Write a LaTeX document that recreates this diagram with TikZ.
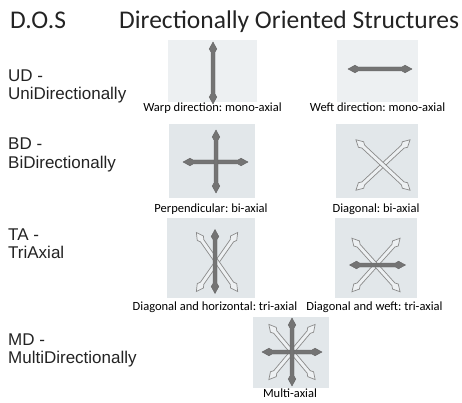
\documentclass[tikz,border=0pt]{standalone}
\usepackage{fontspec}
\setmainfont{Carlito}
\newfontfamily\arialfont{Liberation Sans}
\usetikzlibrary{positioning}
\frenchspacing
\definecolor{tilegrey}{RGB}{226,231,234}
\definecolor{tilelight}{RGB}{237,240,242}
\definecolor{fibregrey}{RGB}{116,116,116}
\definecolor{fibreedge}{RGB}{138,138,138}
\definecolor{inkgrey}{RGB}{35,35,35}

\tikzset{
  % double-headed fibre with lance tips, #1 = half length
  pics/fibre/.style={code={
    \path[pic actions] (-#1,0) -- ++(7,3.8) -- ++(3,-1.8) -- (#1-10,2) -- ++(3,1.8)
      -- (#1,0) -- ++(-7,-3.8) -- ++(-3,1.8) -- (-#1+10,-2) -- ++(-3,-1.8) -- cycle;
  }}
}

\begin{document}
\begin{tikzpicture}[x=1pt, y=-1pt,
  tile/.style={fill=tilegrey, inner sep=0pt},
  caption/.style={anchor=base, inner sep=0pt, font=\fontsize{12.5}{14}\selectfont},
  rowlabel/.style={anchor=base west, inner sep=0pt, text=inkgrey, font=\arialfont\fontsize{17}{19}\selectfont},
  solidfibre/.style={fill=fibregrey, draw=fibregrey!85!black, line width=0.4pt},
  openfibre/.style={fill=tilelight, draw=fibreedge, line width=0.7pt}]
    \useasboundingbox (0,0) rectangle (462,403);

    % Title
    \node[anchor=base west, inner sep=0pt, text=inkgrey, font=\fontsize{25.5}{30}\selectfont] (dos) at (10,29) {D.O.S};
    \node[anchor=base west, inner sep=0pt, text=inkgrey, font=\fontsize{25.5}{30}\selectfont] (title) at (119,29) {Directionally Oriented Structures};

    % Row labels
    \node[rowlabel] (ud) at (8,82) {UD -};
    \node[rowlabel] (udname) at (8,100) {UniDirectionally};
    \node[rowlabel] (bd) at (8,150) {BD -};
    \node[rowlabel] (bdname) at (8,168) {BiDirectionally};
    \node[rowlabel] (ta) at (8,240) {TA -};
    \node[rowlabel] (taname) at (8,258) {TriAxial};
    \node[rowlabel] (md) at (8,345) {MD -};
    \node[rowlabel] (mdname) at (8,363) {MultiDirectionally};

    % Tiles
    \node[tile, fill=tilelight, minimum width=89pt, minimum height=62pt] (warp) at (212.5,71) {};
    \node[tile, fill=tilelight, minimum width=81pt, minimum height=62pt] (weft) at (377.5,71) {};
    \node[tile, minimum width=86pt, minimum height=74pt] (perp) at (212,161) {};
    \node[tile, minimum width=82pt, minimum height=74pt] (diag) at (377,161) {};
    \node[tile, minimum width=88pt, minimum height=80pt] (diagh) at (211,258) {};
    \node[tile, minimum width=82pt, minimum height=80pt] (diagw) at (376,258) {};
    \node[tile, minimum width=76pt, minimum height=71pt] (multi) at (291,352.5) {};

    % UD
    \pic[solidfibre, rotate=90] at (213,73) {fibre=31};
    \pic[solidfibre] at (380,69) {fibre=32};

    % BD
    \pic[solidfibre] at (215.5,162) {fibre=32.5};
    \pic[solidfibre, rotate=90] at (216,161.5) {fibre=31.5};
    \pic[openfibre, rotate=43] at (383,165) {fibre=37};
    \pic[openfibre, rotate=-43] at (383,165) {fibre=37};

    % TA
    \pic[openfibre, rotate=55] at (217,262) {fibre=36};
    \pic[openfibre, rotate=-55] at (217,262) {fibre=36};
    \pic[solidfibre, rotate=90] at (215,261.5) {fibre=32};
    \pic[openfibre, rotate=48] at (376,265) {fibre=36};
    \pic[openfibre, rotate=-48] at (376,265) {fibre=36};
    \pic[solidfibre] at (377.5,265) {fibre=28};

    % MD
    \pic[openfibre, rotate=50] at (292,352) {fibre=36};
    \pic[openfibre, rotate=-50] at (292,352) {fibre=36};
    \pic[solidfibre] at (292,352) {fibre=30};
    \pic[solidfibre, rotate=90] at (292,352) {fibre=34};

    % Captions
    \node[caption] (warpcap) at (212.5,112) {Warp direction: mono-axial};
    \node[caption] (weftcap) at (377.5,112) {Weft direction: mono-axial};
    \node[caption] (perpcap) at (211,212) {Perpendicular: bi-axial};
    \node[caption] (diagcap) at (376,212) {Diagonal: bi-axial};
    \node[caption] (diaghcap) at (215,310) {Diagonal and horizontal: tri-axial};
    \node[caption] (diagwcap) at (374.5,310) {Diagonal and weft: tri-axial};
    \node[caption] (multicap) at (290,397) {Multi-axial};
\end{tikzpicture}
\end{document}
